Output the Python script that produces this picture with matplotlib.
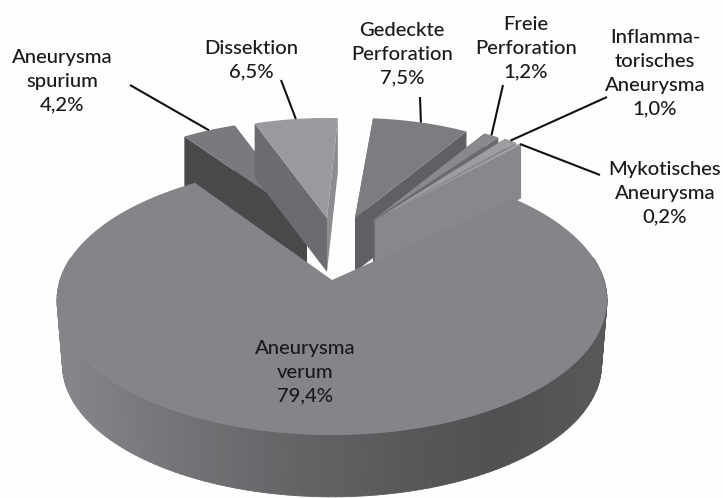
import numpy as np
import matplotlib
matplotlib.use("Agg")
import matplotlib.pyplot as plt
from matplotlib.patches import Polygon
from matplotlib.collections import PolyCollection
from matplotlib.colors import LinearSegmentedColormap

# data (clockwise from the upper left)
labels = ["Aneurysma\nspurium\n4,2%", "Dissektion\n6,5%", "Gedeckte\nPerforation\n7,5%",
          "Freie\nPerforation\n1,2%", "Inflamma-\ntorisches\nAneurysma\n1,0%",
          "Mykotisches\nAneurysma\n0,2%"]
values = [4.2, 6.5, 7.5, 1.2, 1.0, 0.2]
main_label = "Aneurysma\nverum\n79,4%"
main_value = 79.4

# layout / style
label_xy = [(62, 81), (251, 60), (402, 54), (526, 48), (655, 73), (665, 193)]
leader_from = [(130, 85), (281, 80), (420, 97), (503, 85), (607, 97), (600, 175)]
off_x = [-25, -5, 23, 41, 43, 43]
off_y = [-60, -62, -62, -60, -60, -60]
nudge = [0, 0, -2, -2, -3.5, -4.5]
top_col = ["#797a7d", "#999a9d", "#7c7d80", "#88898c", "#9c9da0", "#a8a9ac"]
left_col = ["#48494b", "#6b6c6f", "#5f6063", "#5f6063", "#6a6b6e", "#87888b"]
right_col = ["#48494b", "#8c8d90", "#5f6063", "#6a6b6e", "#87888b", "#87888b"]
CX, CY, R, B, P = 332, 280, 272, 132, 0.148
THETA0, MAIN_START, MAIN_END, EXPL_SCALE, DEPTH = 125.5, 124.4, 42.6, 0.87, 62
TEXT = dict(ha="center", va="center", fontsize=14.6, fontweight="medium", color="#1a1a1c",
            linespacing=1.5, zorder=21)


def rim(theta, s=1.0, ox=0.0, oy=0.0):
    t = np.radians(theta)
    d = 1 + P * np.sin(t)
    return CX + ox + s * R * np.cos(t) / d, CY + oy - s * B * np.sin(t) / d


plt.rcParams["font.family"] = ["Lato", "Liberation Sans", "DejaVu Sans"]
fig = plt.figure(figsize=(7.23, 4.98), dpi=100, facecolor="#fefefe")
ax = fig.add_axes([0, 0, 1, 1])
ax.set_xlim(0, 723)
ax.set_ylim(498, 0)
ax.axis("off")

# exploded slices, back to front
edges = THETA0 - np.cumsum([0] + values) * 3.6
for i, v in enumerate(values):
    a1, a0 = edges[i] + nudge[i], edges[i + 1] + nudge[i]
    ox, oy = off_x[i], off_y[i]
    s = EXPL_SCALE
    ap = np.array([CX + ox, CY + oy])
    dn = DEPTH * s
    th = np.linspace(a0, a1, 30)
    xs, ys = rim(th, s, ox, oy)
    pts_r = np.array([xs[0], ys[0]])
    pts_l = np.array([xs[-1], ys[-1]])
    ax.add_patch(Polygon([pts_l, pts_l + [0, dn], ap + [0, dn], ap], fc=left_col[i], ec="none", zorder=2 + i))
    ax.add_patch(Polygon([pts_r, pts_r + [0, dn], ap + [0, dn], ap], fc=right_col[i], ec="none", zorder=2 + i))
    ax.add_patch(Polygon(np.vstack([ap, np.column_stack([xs, ys])]), fc=top_col[i], ec="none", zorder=2.5 + i))
    # leader
    xm, ym = rim((a0 + a1) / 2, s, ox, oy)
    ax.plot([leader_from[i][0], xm], [leader_from[i][1], ym], color="#111111", lw=1.5, zorder=20,
            solid_capstyle="butt")
    ax.text(*label_xy[i], labels[i], **TEXT)

# main slice: side wall
cmap = LinearSegmentedColormap.from_list("wall", ["#858689", "#747578", "#656668", "#5a5a5d",
                                                  "#505053", "#58585b"])
th = np.linspace(170, 370, 160)
tx, ty = rim(th)
bx, by = rim(th, 0.98, 0, 65)
quads = [[(tx[k], ty[k]), (tx[k + 1], ty[k + 1]), (bx[k + 1], by[k + 1]), (bx[k], by[k])]
         for k in range(len(th) - 1)]
u = (tx[:-1] - tx.min()) / (tx.max() - tx.min())
cols = cmap(u)
ax.add_collection(PolyCollection(quads, facecolors=cols, edgecolors=cols, linewidths=0.6, zorder=9))

# main slice: top
sweep = 360 - (MAIN_START - MAIN_END)
th = np.linspace(MAIN_START, MAIN_START + sweep, 300)
xs, ys = rim(th)
ax.add_patch(Polygon(np.vstack([[CX, CY], np.column_stack([xs, ys])]), fc="#848589", ec="none", zorder=10))
ax.text(305, 372, main_label, **TEXT)

fig.savefig("out.png", dpi=100, facecolor=fig.get_facecolor())
